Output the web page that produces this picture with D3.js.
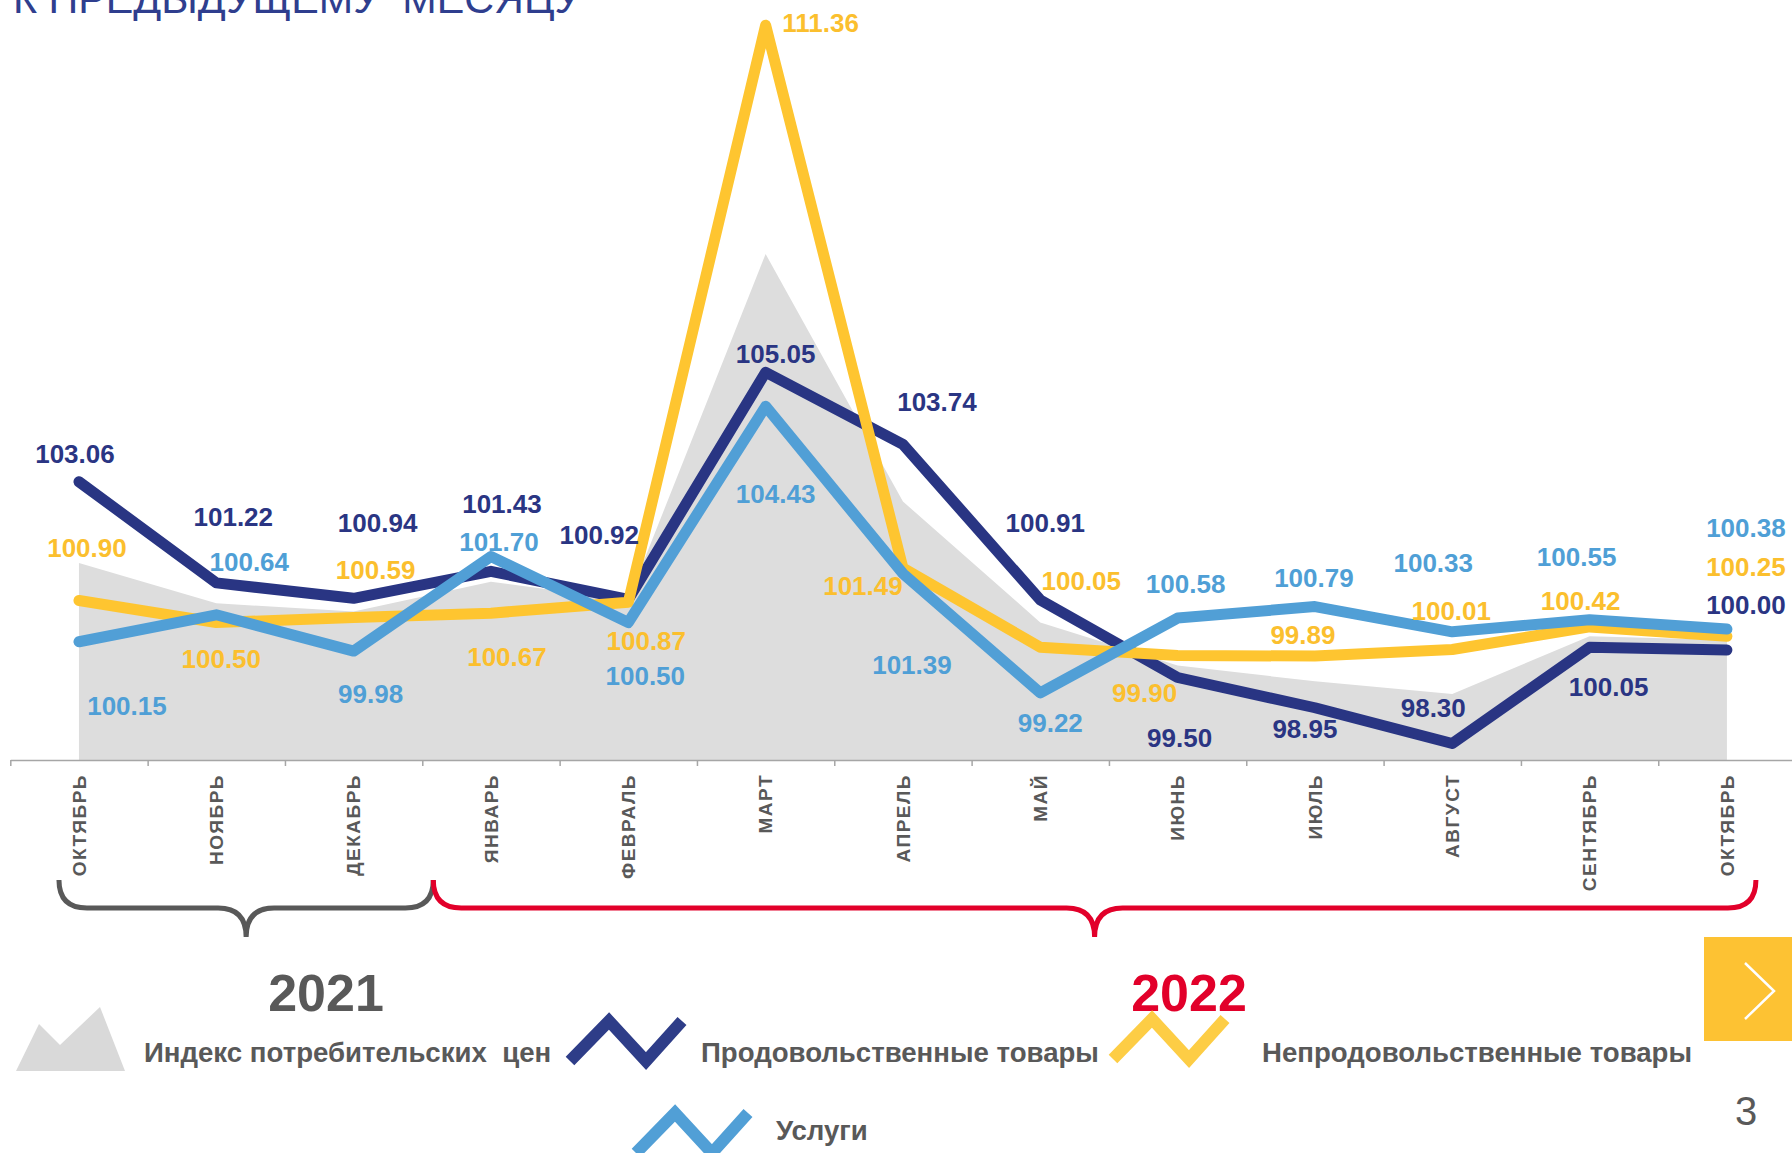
<!DOCTYPE html>
<html>
<head>
<meta charset="utf-8">
<script src="https://cdn.jsdelivr.net/npm/d3@7"></script>
<style>
body { margin: 0; background: #fff; }
svg { display: block; font-family: "Liberation Sans", Arial, sans-serif; }
</style>
</head>
<body>
<svg id="grafico"></svg>
<script>
// данные: индексы к предыдущему месяцу, окт 2021 - окт 2022
var meses = ["ОКТЯБРЬ", "НОЯБРЬ", "ДЕКАБРЬ", "ЯНВАРЬ", "ФЕВРАЛЬ", "МАРТ", "АПРЕЛЬ", "МАЙ", "ИЮНЬ", "ИЮЛЬ", "АВГУСТ", "СЕНТЯБРЬ", "ОКТЯБРЬ"]
var ipc = [101.58, 100.85, 100.70, 101.24, 100.91, 107.20, 102.70, 100.50, 99.72, 99.43, 99.20, 100.25, 100.18]
var prod = [103.06, 101.22, 100.94, 101.43, 100.92, 105.05, 103.74, 100.91, 99.50, 98.95, 98.30, 100.05, 100.00]
var neprod = [100.90, 100.50, 100.59, 100.67, 100.87, 111.36, 101.49, 100.05, 99.90, 99.89, 100.01, 100.42, 100.25]
var uslugi = [100.15, 100.64, 99.98, 101.70, 100.50, 104.43, 101.39, 99.22, 100.58, 100.79, 100.33, 100.55, 100.38]
var anos = ["2021", "2022"]
var legenda = ["Индекс потребительских  цен", "Продовольственные товары", "Непродовольственные товары", "Услуги"]

// сдвиги подписей от точки (px), как разложено на слайде
var prodOff = [[-4,-28],[17,-66],[24,-76],[11,-68],[-29,-65],[10,-19],[34,-43],[5,-77],[2,60],[-10,21],[-19,-36],[19,39],[19,-45]]
var neprodOff = [[8,-53],[5,36],[22,-48],[16,43],[18,38],[55,-3],[-40,18],[41,-67],[-33,37],[-12,-21],[-1,-39],[-9,-26],[19,-70]]
var uslugiOff = [[48,64],[33,-53],[17,43],[8,-15],[17,53],[10,87],[9,91],[10,30],[8,-34],[-1,-29],[-19,-69],[-13,-63],[19,-101]]

const width = 1792
const height = 1153
const baseY = 760

var cores = {
    ipc: "#dddddd",
    prod: "#293583",
    neprod: "#fec530",
    uslugi: "#519fd6",
    cinza: "#595959",
    vermelho: "#e2002a"
}

var svg = d3.select("#grafico")
    .attr("width", width)
    .attr("height", height)

// заголовок (обрезан сверху, как на слайде)
svg.append("text")
    .attr("x", 13)
    .attr("y", 13)
    .style("font-size", "41.3px")
    .style("fill", "#2f3e8e")
    .style("white-space", "pre")
    .text("К ПРЕДЫДУЩЕМУ  МЕСЯЦУ")

var x = d3.scaleBand()
    .domain(d3.range(meses.length))
    .range([10.3, 10.3 + 13 * 137.33])
    .padding(0)
var xc = i => x(i) + x.bandwidth() / 2

var xBorda = d3.scaleLinear()
    .domain([0, meses.length])
    .range(x.range())

var y = d3.scaleLinear()
    .domain([98, 112])
    .range([baseY, baseY - 14 * 55])

// серая область ИПЦ
var area = d3.area()
    .x((d, i) => xc(i))
    .y0(y(98))
    .y1(d => y(d))

svg.append("path")
    .datum(ipc)
    .attr("d", area)
    .style("fill", cores.ipc)

// ось
var eixo = svg.append("g")
    .attr("transform", "translate(0," + baseY + ")")
    .call(d3.axisBottom(xBorda).tickValues(d3.range(0, 14)).tickSize(6).tickSizeOuter(0).tickFormat(""))
eixo.selectAll("path, line").style("stroke", "#a6a6a6").style("stroke-width", 1.5)

var eixoMeses = svg.append("g")
    .attr("transform", "translate(0," + baseY + ")")
    .call(d3.axisBottom(x).tickSize(0).tickFormat(i => meses[i]))
eixoMeses.select(".domain").remove()
eixoMeses.selectAll("text")
    .attr("transform", "rotate(-90)")
    .attr("text-anchor", "end")
    .attr("x", -14)
    .attr("y", 0)
    .attr("dy", "0.35em")
    .style("font-family", "'Liberation Sans', Arial, sans-serif")
    .style("font-size", "19px")
    .style("font-weight", "bold")
    .style("letter-spacing", "1.5px")
    .style("fill", cores.cinza)

// линии
var linha = d3.line()
    .x((d, i) => xc(i))
    .y(d => y(d))

var series = [
    {nome: "prod", valores: prod, off: prodOff, cor: cores.prod, corTexto: "#2a3583"},
    {nome: "neprod", valores: neprod, off: neprodOff, cor: cores.neprod, corTexto: "#fbbf2e"},
    {nome: "uslugi", valores: uslugi, off: uslugiOff, cor: cores.uslugi, corTexto: "#4f9fd6"}
]

series.forEach(function(s) {
    svg.append("path")
        .datum(s.valores)
        .attr("d", linha)
        .style("fill", "none")
        .style("stroke", s.cor)
        .style("stroke-width", 11)
        .style("stroke-linejoin", "round")
        .style("stroke-linecap", "round")
})

series.forEach(function(s) {
    svg.append("g")
        .selectAll("text")
        .data(s.valores)
        .join("text")
        .attr("x", (d, i) => xc(i) + s.off[i][0])
        .attr("y", (d, i) => y(d) + s.off[i][1])
        .attr("dy", "0.36em")
        .attr("text-anchor", "middle")
        .style("font-size", "26px")
        .style("font-weight", "bold")
        .style("fill", s.corTexto)
        .text(d => d.toFixed(2))
})

// фигурные скобки под месяцами
function chave(x0, x1, yTop, yMid, yTip, r) {
    var cx = (x0 + x1) / 2
    return "M" + x0 + "," + yTop +
        " Q" + x0 + "," + yMid + " " + (x0 + r) + "," + yMid +
        " L" + (cx - r) + "," + yMid +
        " Q" + cx + "," + yMid + " " + cx + "," + yTip +
        " M" + cx + "," + yTip +
        " Q" + cx + "," + yMid + " " + (cx + r) + "," + yMid +
        " L" + (x1 - r) + "," + yMid +
        " Q" + x1 + "," + yMid + " " + x1 + "," + yTop
}

var chaves = [
    {x0: xc(0) - 20, x1: x(3) + 11, cor: cores.cinza},
    {x0: x(3) + 11, x1: xc(12) + 29, cor: cores.vermelho}
]

svg.append("g")
    .selectAll("path")
    .data(chaves)
    .join("path")
    .attr("d", d => chave(d.x0, d.x1, 880, 908, 937, 28))
    .style("fill", "none")
    .style("stroke", d => d.cor)
    .style("stroke-width", 5)

svg.append("g")
    .selectAll("text")
    .data(anos)
    .join("text")
    .attr("x", (d, i) => [326, 1189][i])
    .attr("y", 1011)
    .attr("text-anchor", "middle")
    .style("font-size", "52px")
    .style("font-weight", "bold")
    .style("fill", (d, i) => i == 0 && cores.cinza || cores.vermelho)
    .text(d => d)

// легенда
var leg = svg.append("g")

leg.append("path")
    .attr("d", "M16,1071 L39,1024 L60,1045 L100,1007 L125,1071 Z")
    .style("fill", "#d9d9d9")

function zigue(x0, y0) {
    return "M" + x0 + "," + (y0 + 40) + " L" + (x0 + 39) + "," + y0 + " L" + (x0 + 76) + "," + (y0 + 40) + " L" + (x0 + 112) + "," + y0
}

var icones = [
    {x0: 570, y0: 1021, cor: "#2e3d88"},
    {x0: 1113, y0: 1019, cor: "#fdcd45"},
    {x0: 636, y0: 1113, cor: cores.uslugi}
]

leg.selectAll("path.zig")
    .data(icones)
    .join("path")
    .attr("class", "zig")
    .attr("d", d => zigue(d.x0, d.y0))
    .style("fill", "none")
    .style("stroke", d => d.cor)
    .style("stroke-width", 12)
    .style("stroke-linejoin", "miter")

var posLeg = [[144, 1062], [701, 1062], [1262, 1062], [776, 1140]]

leg.selectAll("text")
    .data(legenda)
    .join("text")
    .attr("x", (d, i) => posLeg[i][0])
    .attr("y", (d, i) => posLeg[i][1])
    .style("font-size", "27.6px")
    .style("font-weight", "bold")
    .style("fill", cores.cinza)
    .style("white-space", "pre")
    .text(d => d)

// оранжевая кнопка и номер слайда
svg.append("rect")
    .attr("x", 1704)
    .attr("y", 937)
    .attr("width", 90)
    .attr("height", 104)
    .style("fill", "#fdc233")

svg.append("path")
    .attr("d", "M1745,963 L1774,991 L1745,1019")
    .style("fill", "none")
    .style("stroke", "white")
    .style("stroke-width", 2.5)

svg.append("text")
    .attr("x", 1746)
    .attr("y", 1125)
    .attr("text-anchor", "middle")
    .style("font-size", "40px")
    .style("fill", cores.cinza)
    .text("3")
</script>
</body>
</html>
